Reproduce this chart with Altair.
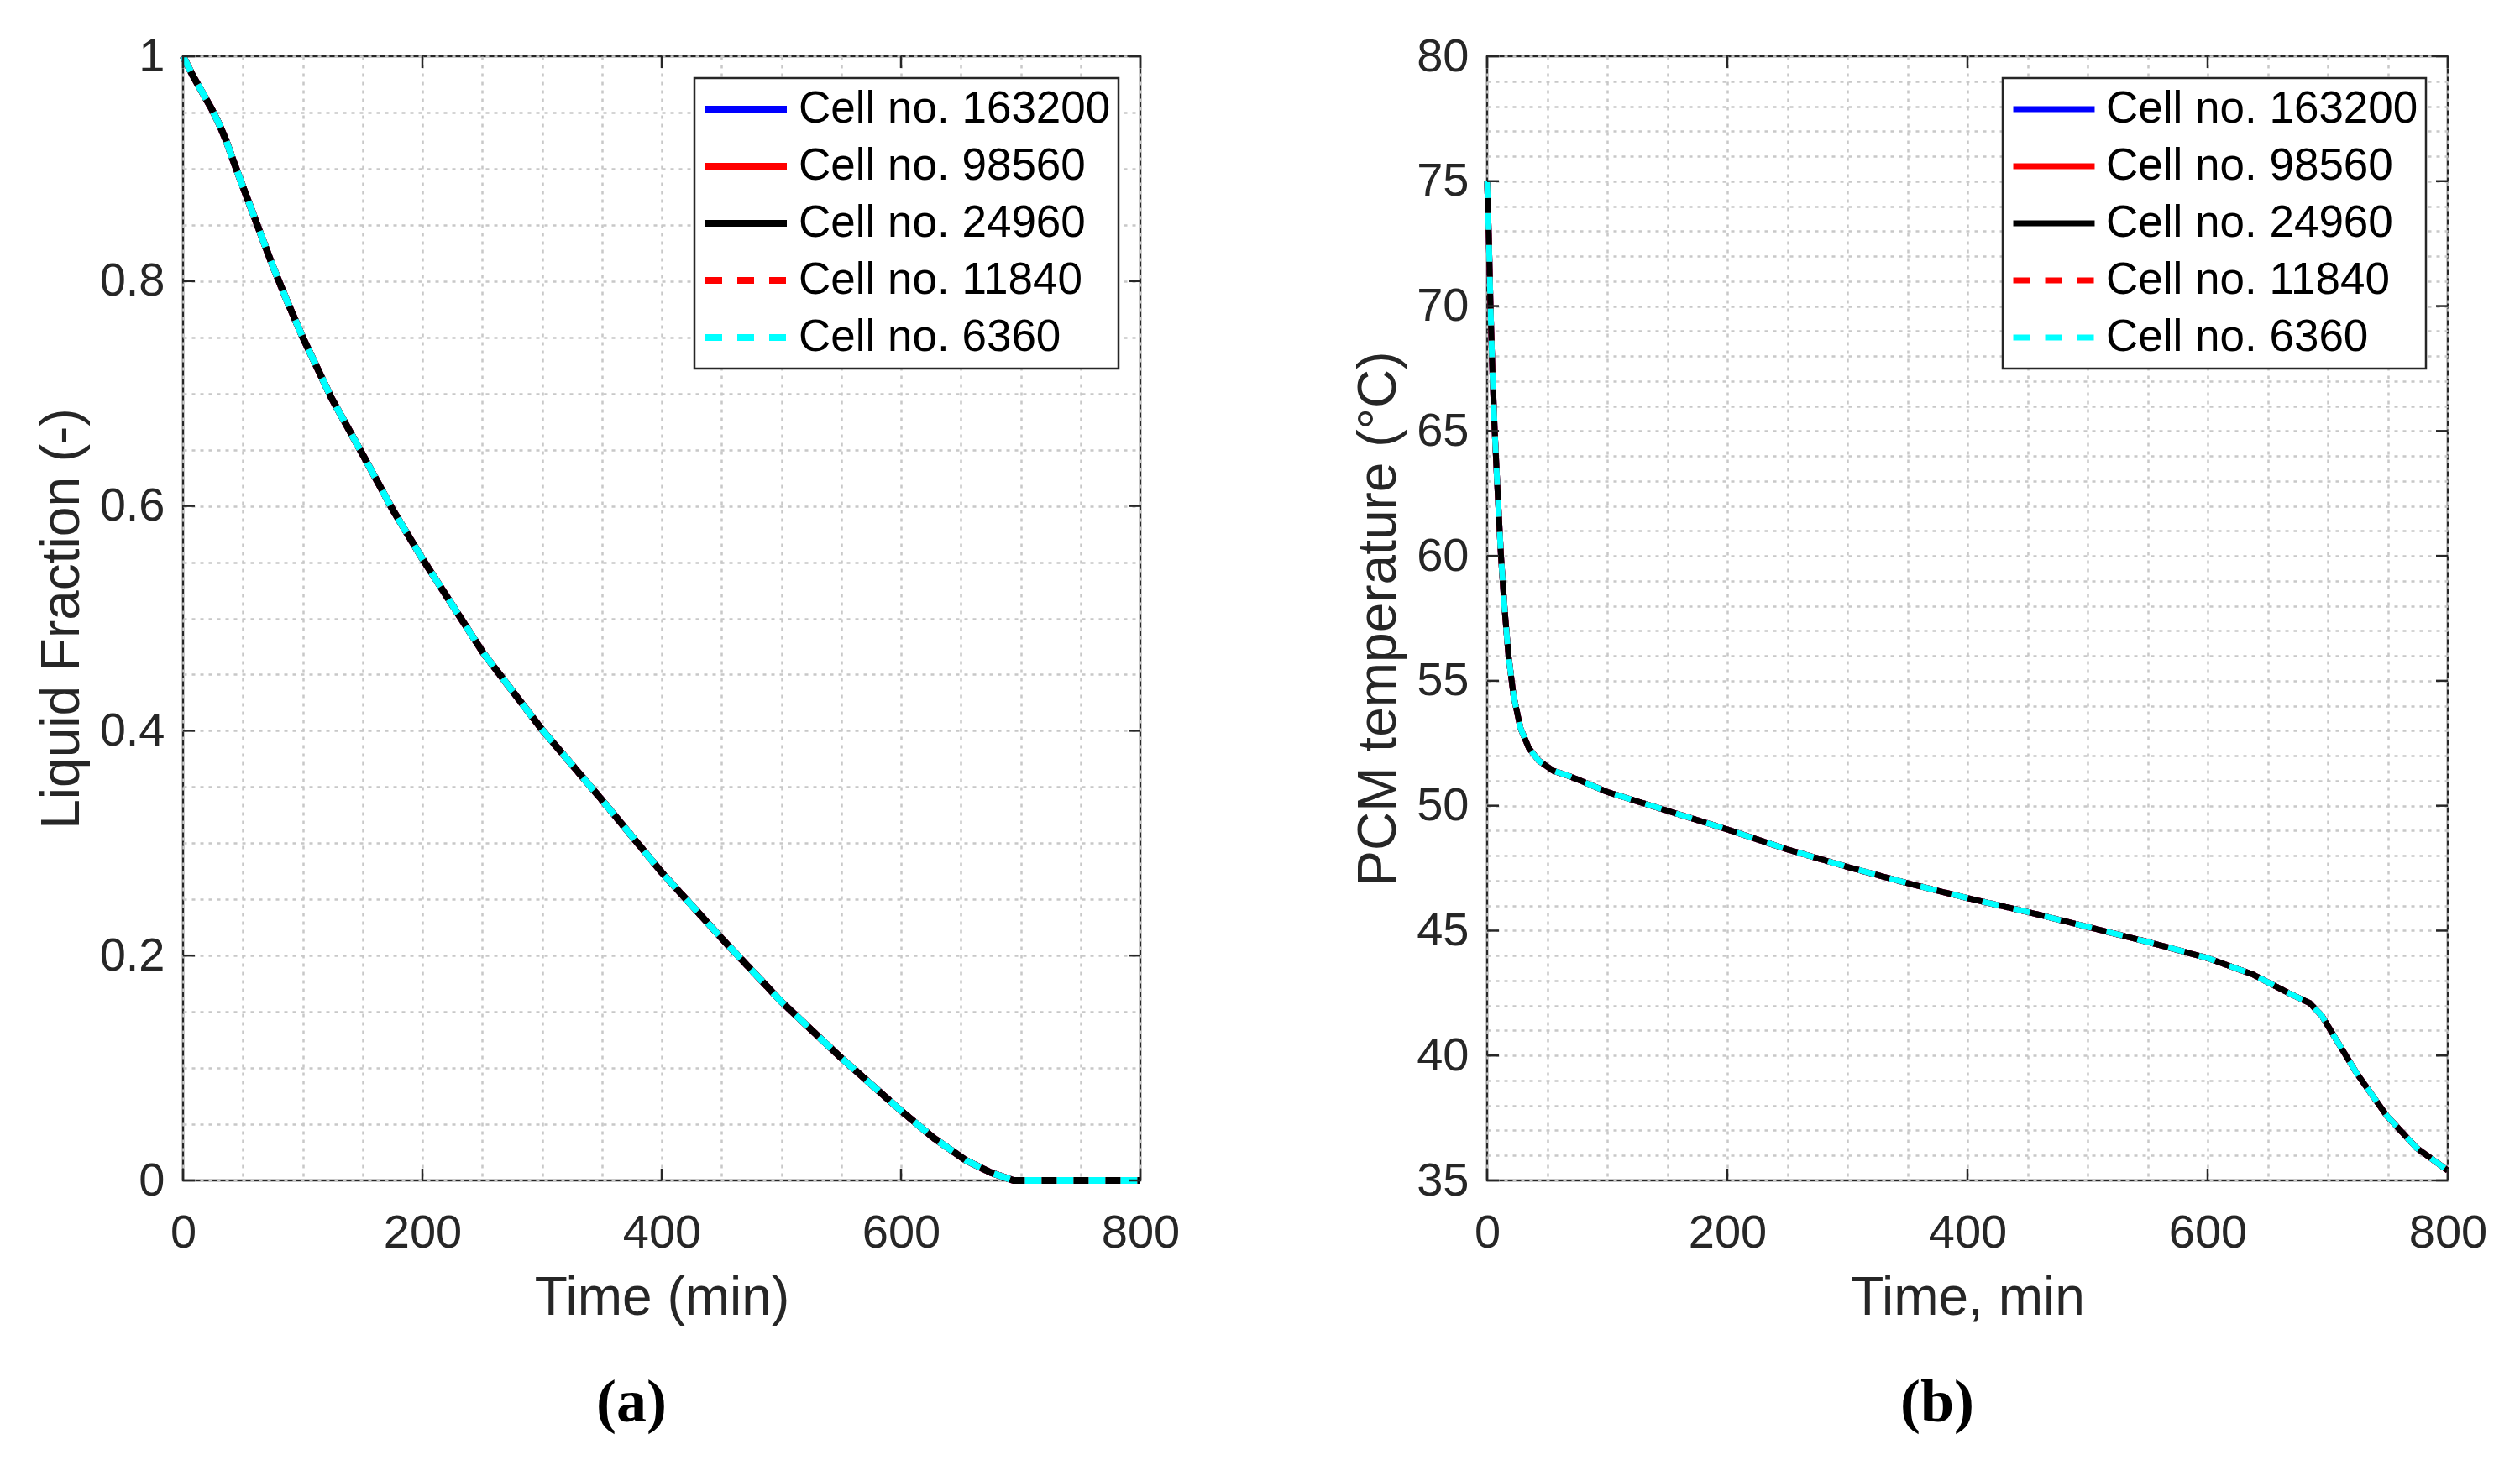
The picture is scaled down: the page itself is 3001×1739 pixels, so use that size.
import altair as alt
import pandas as pd

# legend entries, in plotting order (last one is drawn on top)
CELLS = ["Cell no. 163200", "Cell no. 98560", "Cell no. 24960", "Cell no. 11840", "Cell no. 6360"]
CELL_COLORS = ["#0000ff", "#ff0000", "#000000", "#ff0000", "#00ffff"]
CELL_DASHES = [[1, 0], [1, 0], [1, 0], [20, 18], [20, 18]]
WIDTHS_A = [8, 8, 8, 8, 8]
WIDTHS_B = [7, 7, 9.5, 7, 7]

# (a) liquid fraction vs time (all meshes overlap)
LF_TIME = [0, 8, 16, 24, 30, 36, 42, 50, 62, 74, 87, 100, 124, 151, 175, 200, 251, 300,
           352, 400, 453, 500, 550, 600, 627, 654, 675, 694, 750, 800]
LF_VALUE = [1.0, 0.983, 0.968, 0.953, 0.940, 0.925, 0.907, 0.884, 0.850, 0.816, 0.782,
            0.750, 0.696, 0.644, 0.597, 0.553, 0.469, 0.401, 0.336, 0.274, 0.212, 0.159,
            0.109, 0.062, 0.038, 0.018, 0.007, 0.0, 0.0, 0.0]

# (b) PCM temperature vs time
T_TIME = [0, 1.4, 2.8, 4.4, 6.3, 8.6, 11.4, 14.5, 17.8, 22, 27.8, 34.8, 43, 55, 67.5, 78,
          100, 150, 200, 250, 300, 350, 400, 450, 500, 550, 600, 637.5, 667.5, 685, 695,
          705, 724, 749, 774, 800]
T_VALUE = [75.0, 72.8, 70.0, 67.4, 65.0, 62.7, 60.1, 57.9, 56.0, 54.4, 53.1, 52.3, 51.8,
           51.4, 51.2, 51.0, 50.55, 49.8, 49.05, 48.25, 47.55, 46.9, 46.3, 45.75, 45.15,
           44.55, 43.9, 43.25, 42.5, 42.1, 41.6, 40.8, 39.3, 37.6, 36.3, 35.4]

# ticks (major) and grid lines (major + minor)
X_TICKS = [0, 200, 400, 600, 800]
X_GRID = list(range(0, 801, 50))
LF_TICKS = [0, 0.2, 0.4, 0.6, 0.8, 1]
LF_GRID = [round(i * 0.05, 2) for i in range(21)]
T_TICKS = list(range(35, 81, 5))
T_GRID = list(range(35, 81))

INK = "#262626"
TICK = 14
H = 1339


def make_axis(values, expr, fmt, title, label_pad, title_pad):
    return alt.Axis(values=values, labelExpr=expr, format=fmt, title=title,
                    grid=True, ticks=False, tickSize=0, domain=False,
                    labelFlush=False, labelOverlap=False,
                    labelPadding=label_pad, titlePadding=title_pad)


def panel(time, value, y_domain, y_axis, y_ticks, widths, caption, width):
    rows = []
    for cell in CELLS:
        for t, v in zip(time, value):
            rows.append({"cell": cell, "t": t, "v": v})
    df = pd.DataFrame(rows)

    x_scale = alt.Scale(domain=[0, 800], nice=False, zero=False)
    y_scale = alt.Scale(domain=y_domain, nice=False, zero=False)
    x_axis = make_axis(X_GRID, "datum.value % 200 === 0 ? datum.label : ''", "d",
                       "Time (min)" if caption == "(a)" else "Time, min", 35, 18)

    legend = alt.Legend(title=None, orient="top-right", offset=26, fillColor="white",
                        strokeColor=INK, padding=9, labelFont="Liberation Sans",
                        labelFontSize=53, labelColor="black", labelOffset=10,
                        labelLimit=1000, symbolSize=9400, symbolType="stroke",
                        clipHeight=56, rowPadding=12)

    lines = alt.Chart(df).mark_line().encode(
        x=alt.X("t:Q", scale=x_scale, axis=x_axis),
        y=alt.Y("v:Q", scale=y_scale, axis=y_axis),
        color=alt.Color("cell:N", scale=alt.Scale(domain=CELLS, range=CELL_COLORS),
                        legend=legend),
        strokeDash=alt.StrokeDash("cell:N", scale=alt.Scale(domain=CELLS, range=CELL_DASHES)),
        strokeWidth=alt.StrokeWidth("cell:N", scale=alt.Scale(domain=CELLS, range=widths)),
    )

    # inward tick marks on all four sides
    xt = pd.DataFrame({"t": X_TICKS})
    yt = pd.DataFrame({"v": y_ticks})
    x_enc = alt.X("t:Q", scale=x_scale, axis=x_axis)
    y_enc = alt.Y("v:Q", scale=y_scale, axis=y_axis)
    top = alt.Chart(xt).mark_rule(color=INK, strokeWidth=2.5).encode(
        x=x_enc, y=alt.value(0), y2=alt.value(TICK))
    bottom = alt.Chart(xt).mark_rule(color=INK, strokeWidth=2.5).encode(
        x=x_enc, y=alt.value(H - TICK), y2=alt.value(H))
    left = alt.Chart(yt).mark_rule(color=INK, strokeWidth=2.5).encode(
        y=y_enc, x=alt.value(0), x2=alt.value(TICK))
    right = alt.Chart(yt).mark_rule(color=INK, strokeWidth=2.5).encode(
        y=y_enc, x=alt.value(width - TICK), x2=alt.value(width))

    return alt.layer(lines, top, bottom, left, right).properties(
        width=width, height=H,
        title=alt.TitleParams(caption, orient="bottom", frame="group", dx=-36, offset=58,
                              font="Liberation Serif", fontSize=72, fontWeight="bold",
                              color="black"),
    )


lf_axis = make_axis(LF_GRID,
                    "abs(datum.value * 5 - round(datum.value * 5)) < 0.001 ? datum.label : ''",
                    "~g", "Liquid Fraction (-)", 22, 12)
t_axis = make_axis(T_GRID, "datum.value % 5 === 0 ? datum.label : ''", "d",
                   "PCM temperature (°C)", 22, 12)

chart_a = panel(LF_TIME, LF_VALUE, [0, 1], lf_axis, LF_TICKS, WIDTHS_A, "(a)", 1140)
chart_b = panel(T_TIME, T_VALUE, [35, 80], t_axis, T_TICKS, WIDTHS_B, "(b)", 1144)

chart = alt.hconcat(chart_a, chart_b, spacing=203).resolve_scale(
    x="independent", y="independent", color="independent",
    strokeDash="independent", strokeWidth="independent",
).resolve_legend(
    color="independent", strokeDash="independent", strokeWidth="independent",
).properties(
    padding={"left": 32, "top": 29, "right": 5, "bottom": 5},
    background="white",
).configure_view(
    stroke=INK, strokeWidth=2.5,
).configure_legend(
    strokeWidth=2.5,
).configure_axis(
    labelFont="Liberation Sans", labelFontSize=56, labelColor=INK,
    titleFont="Liberation Sans", titleFontSize=64, titleFontWeight="normal",
    titleColor=INK, gridColor="#c8c8c8", gridDash=[4, 6], gridWidth=2.5, gridOpacity=1,
)

chart.save("out.html", embed_options={"renderer": "svg", "actions": False})
